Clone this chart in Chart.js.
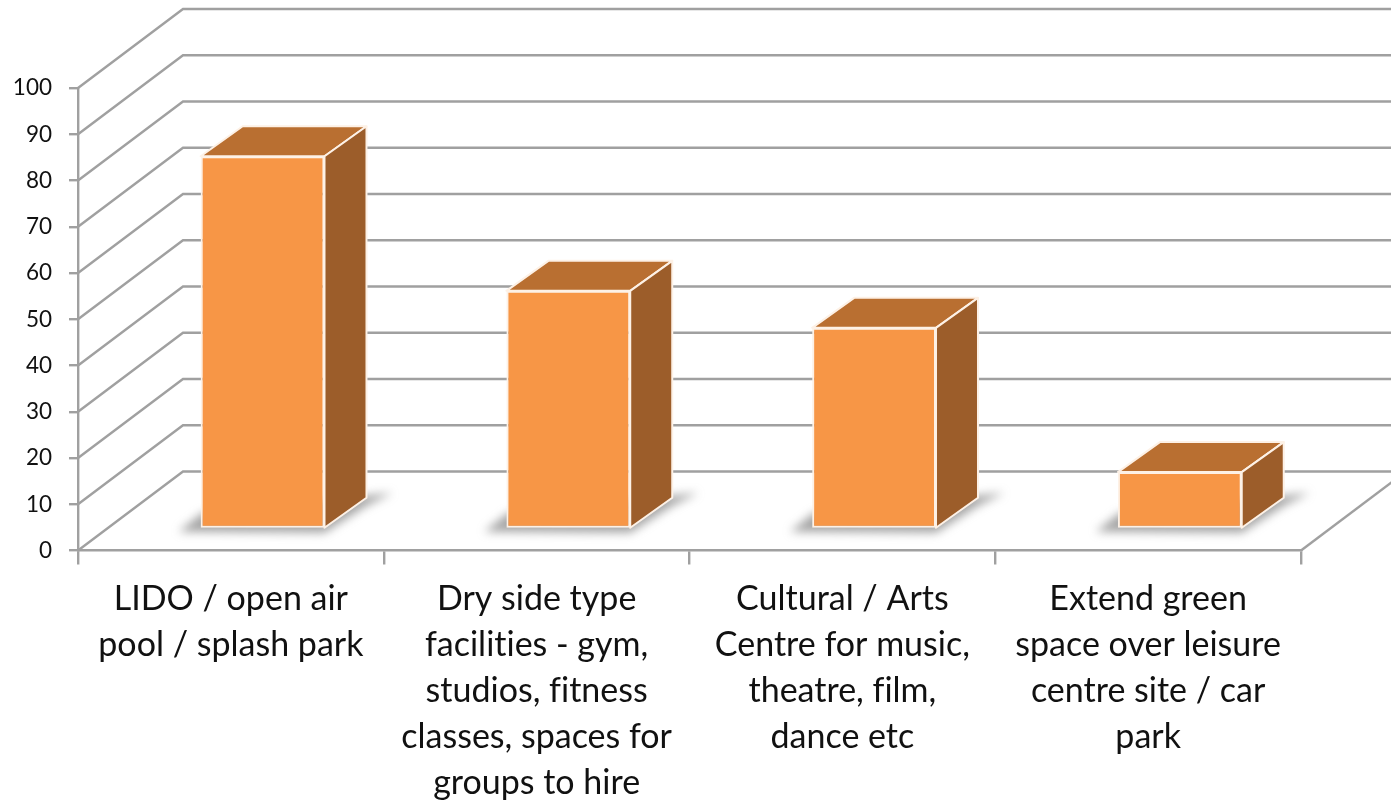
<!DOCTYPE html>
<html>
<head>
<meta charset="utf-8">
<script src="https://cdn.jsdelivr.net/npm/chart.js@4/dist/chart.umd.min.js"></script>
<style>
  body { margin: 0; background: #fff; }
</style>
</head>
<body>
<canvas id="myChart" width="1391" height="801"></canvas>
<script>
const categories = [
  ["LIDO / open air", "pool / splash park"],
  ["Dry side type", "facilities - gym,", "studios, fitness", "classes, spaces for", "groups to hire"],
  ["Cultural / Arts", "Centre for music,", "theatre, film,", "dance etc"],
  ["Extend green", "space over leisure", "centre site / car", "park"]
];
const values = [80.6, 51.5, 43.5, 12.3];
const yMin = 0;
const yMax = 100;
const yStep = 10;

const gridColor = "#a0a0a0";
const wallDx = 105, wallDy = 79;   // back wall offset
const barDx = 31.7, barDy = 21.5;  // bars stand inside the floor
const sideDx = 42, sideDy = 30;    // bar depth

function poly(ctx, pts) {
  ctx.beginPath();
  pts.forEach(function (p, i) {
    if (i == 0) ctx.moveTo(p[0], p[1]);
    else ctx.lineTo(p[0], p[1]);
  });
  ctx.closePath();
}

// chart.js resizes the canvas, which resets this, so set it on every draw
const noLigatures = {
  id: "noLigatures",
  beforeDraw(chart) {
    chart.ctx.textRendering = "optimizeSpeed";
  }
};

const walls = {
  id: "walls",
  beforeDatasetsDraw(chart) {
    const ctx = chart.ctx;
    const y = chart.scales.y;
    const area = chart.chartArea;
    ctx.save();
    ctx.strokeStyle = gridColor;
    ctx.lineWidth = 2.4;
    y.ticks.forEach(function (t) {
      const py = y.getPixelForValue(t.value);
      ctx.beginPath();
      ctx.moveTo(area.left, py);
      ctx.lineTo(area.left + wallDx, py - wallDy);
      ctx.lineTo(chart.width + 20, py - wallDy);
      ctx.stroke();
    });
    // right edge of the floor
    ctx.beginPath();
    ctx.moveTo(area.right, area.bottom);
    ctx.lineTo(area.right + wallDx, area.bottom - wallDy);
    ctx.stroke();
    ctx.restore();
  }
};

const box3d = {
  id: "box3d",
  beforeDatasetDraw(chart, args) {
    const ctx = chart.ctx;
    const els = chart.getDatasetMeta(args.index).data;
    els.forEach(function (el) {
      const l = el.x - el.width / 2 + barDx;
      const r = el.x + el.width / 2 + barDx;
      const t = el.y - barDy;
      const b = el.base - barDy;
      // floor shadow
      ctx.save();
      ctx.filter = "blur(5px)";
      ctx.fillStyle = "rgba(110,110,110,0.62)";
      poly(ctx, [[l - 22, b + 4], [l + 2, b - 15], [r + sideDx + 26, b - sideDy - 5], [r + sideDx, b - sideDy + 8], [r, b + 5]]);
      ctx.fill();
      ctx.restore();
      // top and side faces
      ctx.save();
      ctx.strokeStyle = "#fdf1e6";
      ctx.lineWidth = 2;
      ctx.lineJoin = "round";
      ctx.fillStyle = "#b96f31";
      poly(ctx, [[l, t], [l + sideDx, t - sideDy], [r + sideDx, t - sideDy], [r, t]]);
      ctx.fill();
      ctx.stroke();
      ctx.fillStyle = "#9c5d2a";
      poly(ctx, [[r, t], [r + sideDx, t - sideDy], [r + sideDx, b - sideDy], [r, b]]);
      ctx.fill();
      ctx.stroke();
      ctx.restore();
    });
    ctx.save();
    ctx.translate(barDx, -barDy);
  },
  afterDatasetDraw(chart) {
    chart.ctx.restore();
  }
};

new Chart(document.getElementById("myChart"), {
  type: "bar",
  data: {
    labels: categories,
    datasets: [
      {
        data: values,
        backgroundColor: "#f79646",
        borderColor: "#fdf1e6",
        borderWidth: 2,
        borderSkipped: false,
        categoryPercentage: 1,
        barPercentage: 0.405,
        clip: false
      }
    ]
  },
  plugins: [noLigatures, walls, box3d],
  options: {
    responsive: false,
    animation: false,
    layout: { padding: { left: 0, right: 90, top: 88, bottom: 0 } },
    plugins: { legend: { display: false }, tooltip: { enabled: false } },
    scales: {
      y: {
        min: yMin,
        max: yMax,
        ticks: {
          stepSize: yStep,
          color: "#111",
          font: { family: "Lato", size: 22.5 },
          padding: 17
        },
        grid: { drawOnChartArea: false, color: gridColor, lineWidth: 2.4, tickLength: 9 },
        border: { color: gridColor, width: 2.4 },
        afterFit(scale) { scale.width = 78; }
      },
      x: {
        ticks: {
          color: "#111",
          autoSkip: false,
          maxRotation: 0,
          font: { family: "Lato", size: 34, lineHeight: 1.347 },
          padding: 12
        },
        grid: { drawOnChartArea: false, color: gridColor, lineWidth: 2.4, tickLength: 14 },
        border: { color: gridColor, width: 2.4 },
        afterFit(scale) { scale.height = 250.5; }
      }
    }
  }
});
</script>
</body>
</html>
